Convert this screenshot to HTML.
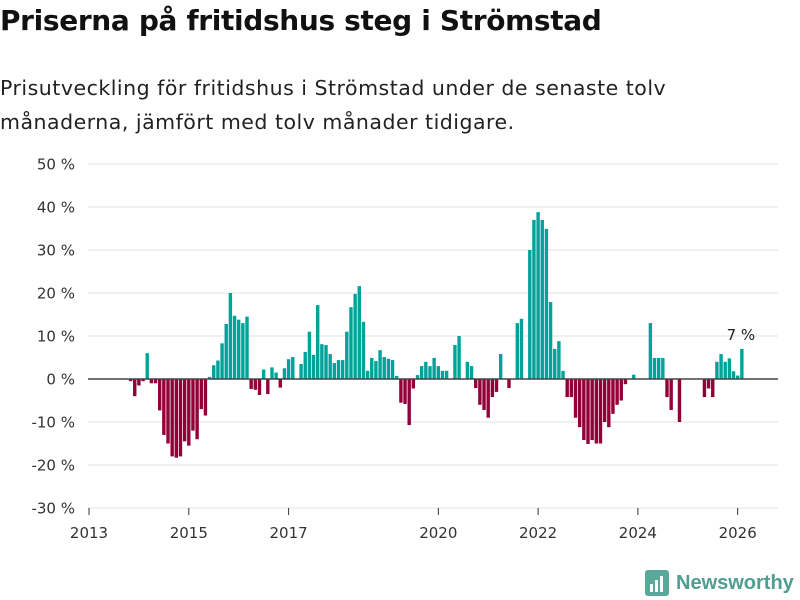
<!DOCTYPE html>
<html><head><meta charset="utf-8"><style>
body{margin:0;background:#fff;font-family:"Liberation Sans",sans-serif;}
#wrap{position:relative;width:800px;height:600px;overflow:hidden;}
h1{position:absolute;left:0;top:4px;margin:0;font-family:"DejaVu Sans",sans-serif;font-size:28px;font-weight:bold;color:#111;letter-spacing:-0.35px;}
.sub{position:absolute;left:0;top:71px;margin:0;font-family:"DejaVu Sans",sans-serif;font-size:20.5px;line-height:34px;color:#222;letter-spacing:0.5px;}
svg{position:absolute;left:0;top:0;}
</style></head><body>
<div id="wrap">
<h1>Priserna på fritidshus steg i Strömstad</h1>
<p class="sub">Prisutveckling för fritidshus i Strömstad under de senaste tolv<br>månaderna, jämfört med tolv månader tidigare.</p>
<svg id="chart" width="800" height="600"></svg>
</div>
<script>
const startYear = 2013, startMonth = 10;
const values = [
-0.5,-4,-1.5,
-0.5,6,-1,-1,-7.3,-13,-15,-18,-18.3,-18,-14.5,-15.5,
-12,-14,-7,-8.5,0.5,3.2,4.3,8.3,12.8,20,14.7,13.8,
13,14.5,-2.3,-2.5,-3.7,2.2,-3.5,2.7,1.5,-2,2.5,4.6,
5.1,0,3.5,6.3,11,5.6,17.2,8.1,7.9,5.8,3.7,4.4,
4.4,11,16.7,19.8,21.6,13.3,1.9,4.9,4.2,6.7,5.1,4.7,
4.4,0.7,-5.5,-5.8,-10.7,-2.2,0.9,3,4,3,4.9,3,
1.9,1.9,0,7.9,10,0,4,3,-2.1,-6,-7.2,-9,
-4.2,-3,5.8,0,-2.1,0,13,14,0,30,37,38.8,
37,34.9,17.9,7,8.8,1.9,-4.2,-4.2,-9,-11.2,-14.2,-15.1,
-14.2,-15,-15,-10,-11.2,-8.1,-6,-5,-1.2,0,1,0,
0,0,13,4.9,4.9,4.9,-4.2,-7.2,0,-10,0,0,
0,0,0,-4.2,-2.2,-4.2,4,5.8,4,4.8,1.8,0.8,
7];
const yTicks = [-30,-20,-10,0,10,20,30,40,50];
const xTicks = [2013,2015,2017,2020,2022,2024,2026];
const lastLabel = "7 %";

const NS="http://www.w3.org/2000/svg";
const svg=document.getElementById('chart');
const FONT='DejaVu Sans, sans-serif';
function y(v){return 379 - v*4.3;}
function x(t){return 89 + (t-2013)*49.9;}
function mk(tag,attrs){const e=document.createElementNS(NS,tag);for(const k in attrs)e.setAttribute(k,attrs[k]);svg.appendChild(e);return e;}

yTicks.forEach(v=>{
  if(v!==0){const g=mk('line',{x1:88,x2:778,y1:y(v),y2:y(v),stroke:'#e2e2e2','stroke-width':1});
  
  }
  const t=mk('text',{x:75,y:y(v)+5.5,'text-anchor':'end','font-size':15,fill:'#333','font-family':FONT});
  t.textContent=v+' %';
  
  
});
values.forEach((v,i)=>{
  const m=startMonth-1+i;
  const t=startYear+ (m+1)/12;
  const cx=x(t);
  const r=mk('rect',{x:cx-1.7,width:3.4,y:Math.min(y(v),y(0)),height:Math.abs(y(v)-y(0)),fill:v>=0?'#00a39a':'#930038'});
  
  
  if(i===values.length-1){
    const l=mk('text',{x:cx-1,y:y(v)-9,'text-anchor':'middle','font-size':15,fill:'#222','font-family':FONT});
    l.textContent=lastLabel;
    
    
  }
});
const z=mk('line',{x1:88,x2:778,y1:y(0),y2:y(0),stroke:'#444','stroke-width':1.5});


const ax=mk('line',{x1:88,x2:778,y1:508,y2:508,stroke:'#e2e2e2','stroke-width':1});


xTicks.forEach(v=>{
  const tk=mk('line',{x1:x(v),x2:x(v),y1:508,y2:515,stroke:'#333','stroke-width':1});
  
  
  const t=mk('text',{x:x(v),y:538,'text-anchor':'middle','font-size':15,fill:'#333','font-family':FONT});
  t.textContent=v;
  
  
});
const lg=mk('rect',{x:645,y:570,width:24,height:26,rx:3,fill:'#5aa89a'});


[[650,584,3,8],[655,580,3,12],[660,576,3,16]].forEach(b=>{
  const r=mk('rect',{x:b[0],y:b[1],width:b[2],height:b[3],fill:'#fff'});
  
  
});
const lt=mk('text',{x:676,y:589,'font-size':20,'font-weight':'bold',fill:'#4f9e90','font-family':'Liberation Sans, sans-serif'});
lt.textContent='Newsworthy';


</script>
</body></html>
